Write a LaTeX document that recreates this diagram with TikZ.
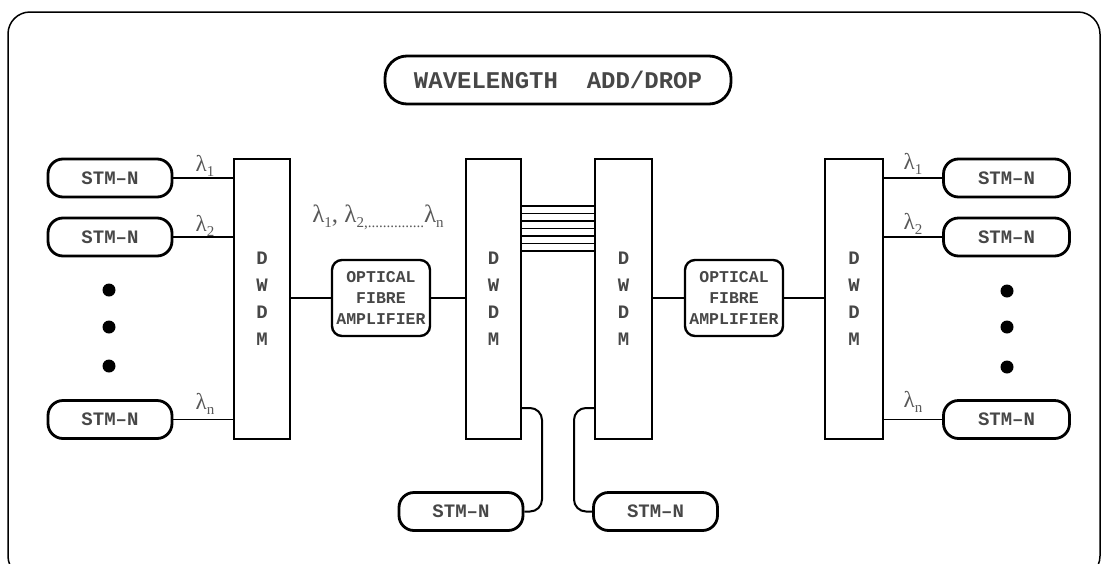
\documentclass[tikz,border=0pt]{standalone}
\usepackage{fontspec}
\setmainfont{Liberation Mono}
\newfontfamily\lamfont{Liberation Serif}
\newcommand{\lsub}[1]{\raisebox{-5pt}{\fontsize{15}{15}\selectfont #1}}
\begin{document}
\begin{tikzpicture}[x=1pt,y=-1pt,
  txtc/.style={text=black!72},
  stm/.style={draw, line width=2.8pt, rounded corners=15pt, minimum width=124pt, minimum height=38pt, inner sep=0pt, font=\fontsize{19}{19}\selectfont\bfseries, txtc},
  dwdm/.style={draw, line width=2.2pt, minimum width=56pt, minimum height=280pt, inner sep=0pt, align=center, font=\fontsize{19}{27}\selectfont\bfseries, txtc},
  amp/.style={draw, line width=2.4pt, rounded corners=10pt, minimum width=98pt, minimum height=76pt, inner sep=0pt, align=center, font=\fontsize{16.5}{21}\selectfont\bfseries, txtc},
  wire/.style={line width=1.6pt},
  addrop/.style={line width=2pt, rounded corners=12pt},
  lam/.style={font=\lamfont\fontsize{23}{23}\selectfont, text=black!65, inner sep=0pt},
  dot/.style={circle, fill=black, inner sep=0pt, minimum size=13pt}]
\useasboundingbox (0,0) rectangle (1101,563);
\begin{scope}
\clip (0,0) rectangle (1101,563);
\draw[line width=1.5pt, rounded corners=22pt] (8,12) rectangle (1100,578);
\end{scope}

% title
\node[draw, line width=2.8pt, rounded corners=22pt, minimum width=346pt, minimum height=48pt, inner sep=0pt, font=\fontsize{24}{24}\selectfont\bfseries, txtc] (title) at (558,80) {WAVELENGTH~~ADD/DROP};

% DWDM blocks
\node[dwdm] (d1) at (262,299) {D\\W\\D\\M};
\node[dwdm, minimum width=55pt] (d2) at (493.5,299) {D\\W\\D\\M};
\node[dwdm, minimum width=57pt] (d3) at (623.5,299) {D\\W\\D\\M};
\node[dwdm, minimum width=58pt] (d4) at (854,299) {D\\W\\D\\M};

% amplifiers
\node[amp] (a1) at (381,298) {OPTICAL\\FIBRE\\AMPLIFIER};
\node[amp] (a2) at (734,298) {OPTICAL\\FIBRE\\AMPLIFIER};

% left STM-N
\node[stm] (l1) at (110,178) {STM--N};
\node[stm] (l2) at (110,237) {STM--N};
\node[stm] (ln) at (110,419.5) {STM--N};
% right STM-N
\node[stm, minimum width=126pt] (r1) at (1006.5,178) {STM--N};
\node[stm, minimum width=126pt] (r2) at (1006.5,237) {STM--N};
\node[stm, minimum width=126pt] (rn) at (1006.5,419.5) {STM--N};
% bottom STM-N
\node[stm] (bl) at (461,511.5) {STM--N};
\node[stm] (br) at (655.5,511.5) {STM--N};

% dots
\node[dot] (ld1) at (109,290) {};
\node[dot] (ld2) at (109,327) {};
\node[dot] (ld3) at (109,366) {};
\node[dot] (rd1) at (1007,291) {};
\node[dot] (rd2) at (1007,327) {};
\node[dot] (rd3) at (1007,367) {};

% lambda labels
\node[lam] (ll1) at (205,166) {λ\lsub{1}};
\node[lam] (ll2) at (205,226) {λ\lsub{2}};
\node[lam] (lln) at (205,404) {λ\lsub{n}};
\node[lam] (rl1) at (913,164) {λ\lsub{1}};
\node[lam] (rl2) at (913,224) {λ\lsub{2}};
\node[lam] (rln) at (913,402) {λ\lsub{n}};
\node[lam, font=\lamfont\fontsize{25}{25}\selectfont] (lall) at (378,217) {λ\lsub{1}, λ\lsub{2,...............}λ\lsub{n}};

% wires left
\draw[wire] (l1.east) -- (l1.east -| d1.west);
\draw[wire] (l2.east) -- (l2.east -| d1.west);
\draw[wire] (ln.east) -- (ln.east -| d1.west);
% wires right
\draw[wire] (r1.west -| d4.east) -- (r1.west);
\draw[wire] (r2.west -| d4.east) -- (r2.west);
\draw[wire] (rn.west -| d4.east) -- (rn.west);
% amplifier links
\draw[wire] (d1.east |- a1.west) -- (a1.west);
\draw[wire] (a1.east) -- (a1.east -| d2.west);
\draw[wire] (d3.east |- a2.west) -- (a2.west);
\draw[wire] (a2.east) -- (a2.east -| d4.west);
% parallel fibres
\foreach \i in {0,...,6}{
  \pgfmathsetmacro{\yy}{206+7.5*\i}
  \draw[line width=1.5pt] (d2.east |- 0,\yy) -- (d3.west |- 0,\yy);
}
% drop / add
\draw[addrop] (d2.east |- 0,408) -- (542,408) -- (542,511.5) -- (bl.east);
\draw[addrop] (d3.west |- 0,408) -- (574,408) -- (574,511.5) -- (br.west);
\end{tikzpicture}
\end{document}
